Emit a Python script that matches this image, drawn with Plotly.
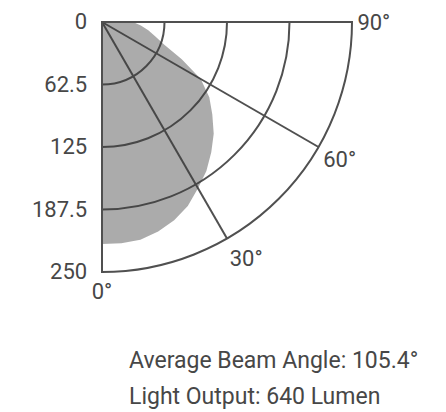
import plotly.graph_objects as go

# Data
angles_deg = [0, 5, 10, 15, 20, 25, 30, 35, 40, 45, 50, 55, 60, 65, 70, 75, 80, 85, 90]
intensity = [222, 222, 221, 217, 211, 203, 192, 182, 170, 158, 144, 131, 114, 88, 66, 55, 47, 39, 31]
radial_ticks = [0, 62.5, 125, 187.5, 250]
radial_labels = ["0", "62.5", "125", "187.5", "250"]
angle_ticks = [0, 30, 60, 90]
angle_labels = ["0°", "30°", "60°", "90°"]
info_lines = ["Average Beam Angle: 105.4°", "Light Output: 640 Lumen"]

W, H = 446, 412
FONT = "Roboto, Liberation Sans Narrow, sans-serif"
LINE = "#505050"
TXT = "#474747"

theta = [0] + angles_deg + [90]
r = [0] + intensity + [0]

fig = go.Figure()
fig.add_trace(go.Scatterpolar(
    r=r, theta=theta, mode="lines", fill="toself",
    fillcolor="rgba(60,60,60,0.43)", line=dict(width=0, color="rgba(0,0,0,0)"),
    hoverinfo="skip", showlegend=False,
))

x0, x1 = 94, 344
y0, y1 = 14, 264
fig.update_layout(
    width=W, height=H,
    margin=dict(l=0, r=0, t=0, b=0),
    paper_bgcolor="white",
    showlegend=False,
    polar=dict(
        domain=dict(x=[x0 / W, x1 / W], y=[1 - y1 / H, 1 - y0 / H]),
        sector=[-90, 0],
        bgcolor="white",
        angularaxis=dict(
            rotation=-90, direction="counterclockwise",
            tickmode="array", tickvals=angle_ticks, ticktext=angle_labels,
            showline=True, linecolor=LINE, linewidth=2,
            showgrid=True, gridcolor=LINE, gridwidth=1.5,
            ticks="", tickfont=dict(family=FONT, size=22, color=TXT),
        ),
        radialaxis=dict(
            range=[0, 250], angle=-90, side="clockwise",
            tickmode="array", tickvals=radial_ticks, ticktext=radial_labels,
            showline=True, linecolor=LINE, linewidth=2,
            showgrid=True, gridcolor=LINE, gridwidth=1.5,
            ticks="outside", ticklen=5, tickcolor="rgba(0,0,0,0)", tickangle=-90,
            tickfont=dict(family=FONT, size=22, color=TXT),
        ),
    ),
)

for i, txt in enumerate(info_lines):
    fig.add_annotation(
        text=txt, x=119 / W, y=1 - (352 + 36 * i) / H, xref="paper", yref="paper",
        xanchor="left", yanchor="middle", align="left", showarrow=False,
        font=dict(family=FONT, size=23, color=TXT),
    )

fig.write_html("out.html")
